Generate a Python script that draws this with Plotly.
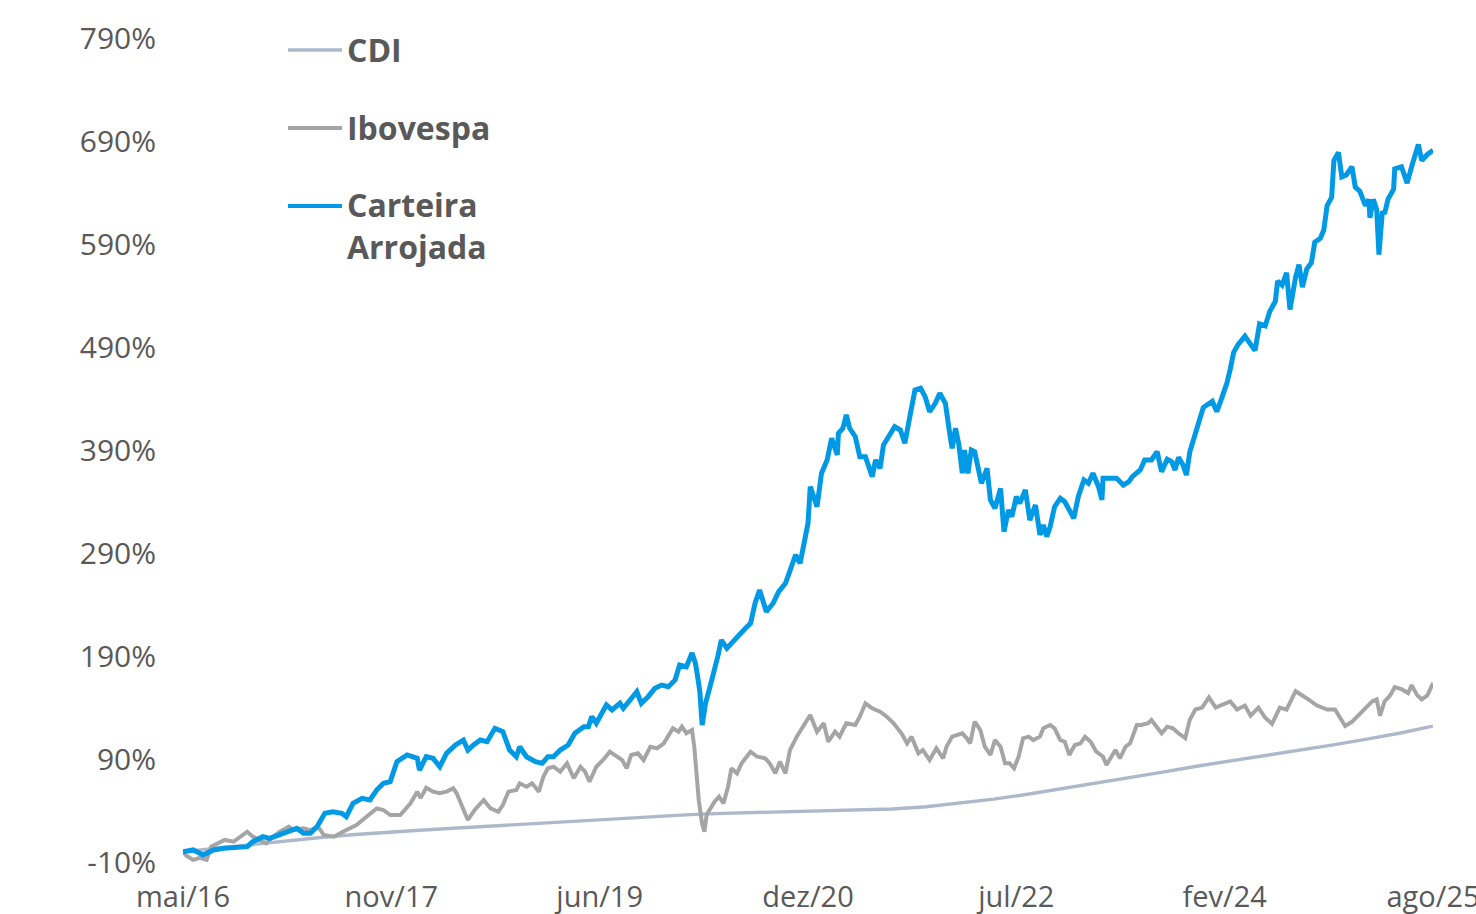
import plotly.graph_objects as go

# ---------------- data (x = months elapsed since the start of May/2016) ----------------
tick_months = [0, 18.5, 37, 55.5, 74, 92.5, 111]
tick_labels = ["mai/16", "nov/17", "jun/19", "dez/20", "jul/22", "fev/24", "ago/25"]
y_ticks = [-10, 90, 190, 290, 390, 490, 590, 690, 790]
y_tick_labels = ["-10%", "90%", "190%", "290%", "390%", "490%", "590%", "690%", "790%"]

cdi_months = [0, 3, 6, 9, 12, 15, 18, 21, 24, 27, 30, 33, 36, 39, 42, 45, 48, 51, 54, 57,
              60, 63, 66, 69, 72, 75, 78, 81, 84, 87, 90, 93, 96, 99, 102, 105, 108, 111]
cdi_values = [0, 3.4, 6.9, 10.5, 13.5, 16.4, 18.8, 20.8, 22.7, 24.6, 26.6, 28.6, 30.5, 32.5,
              34.5, 36.0, 37.2, 38.1, 38.8, 39.4, 40.2, 41.5, 43.6, 47.0, 51.0, 55.8, 61.0,
              66.3, 71.5, 77.2, 83.0, 88.0, 93.0, 98.0, 103.5, 109.0, 115.0, 122.0]

ibov_months = [0, 0.3, 0.9, 1.5, 2.1, 2.5, 3.7, 4.5, 5.7, 6.2, 7.4, 8.0, 8.6, 9.4, 9.8, 10.7,
               11.3, 12.0, 12.5, 13.4, 14.2, 15.4, 16.3, 17.2, 17.8, 18.4, 19.3, 20.2, 20.8,
               21.1, 21.6, 22.2, 22.8, 23.4, 24.0, 24.3, 24.8, 25.3, 25.9, 26.7, 27.3, 28.0,
               28.4, 28.9, 29.6, 29.9, 30.5, 31.0, 31.6, 32.0, 32.4, 32.9, 33.5, 34.1, 34.7,
               35.3, 35.7, 36.1, 36.7, 37.3, 37.9, 38.5, 39.0, 39.4, 39.8, 40.4, 40.9, 41.5,
               42.1, 42.7, 43.1, 43.5, 44.0, 44.3, 44.7, 45.2, 45.4, 45.6, 45.8, 46.1, 46.3,
               46.5, 46.8, 47.2, 47.6, 48.0, 48.4, 48.7, 49.2, 49.6, 50.4, 51.0, 51.7, 52.1,
               52.6, 53.0, 53.5, 53.9, 54.5, 55.1, 55.7, 56.3, 56.9, 57.3, 57.9, 58.3, 58.9,
               59.7, 60.1, 60.6, 61.2, 61.9, 62.5, 63.1, 63.8, 64.3, 64.7, 65.3, 65.7, 66.3,
               66.9, 67.5, 67.8, 68.3, 68.7, 69.2, 69.6, 69.9, 70.3, 70.8, 71.2, 71.7, 72.1,
               72.6, 73.0, 73.4, 73.8, 74.2, 74.6, 75.1, 75.5, 76.1, 76.4, 77.0, 77.4, 77.9,
               78.3, 78.7, 79.2, 79.7, 80.1, 80.6, 81.1, 81.7, 82.0, 82.5, 82.8, 83.2, 83.7,
               84.1, 84.7, 85.1, 85.7, 86.0, 86.5, 86.9, 87.4, 87.9, 88.4, 88.8, 89.0, 89.4,
               89.9, 90.5, 91.1, 91.7, 92.2, 93.0, 93.6, 94.3, 94.8, 95.5, 96.1, 96.7, 97.4,
               98.0, 98.8, 99.4, 99.9, 100.7, 101.6, 102.3, 102.8, 103.2, 103.8, 104.5, 105.1,
               105.6, 106.0, 106.3, 106.7, 107.2, 107.6, 108.2, 108.8, 109.1, 109.6, 110.0,
               110.5, 111.0]
ibov_values = [0, -4, -8, -6, -8, 4.9, 11.4, 9.7, 19.4, 14.6, 8.1, 14.6, 19.4, 24.3, 21.0, 22.7,
               21.0, 24.3, 16.2, 14.6, 19.4, 25.9, 34.0, 42.1, 40.5, 35.6, 35.6, 47.0, 58.3,
               52.0, 62.0, 58.3, 56.7, 58.3, 61.5, 56.7, 43.7, 30.8, 40.5, 50.2, 42.1, 38.8,
               45.3, 58.3, 59.9, 66.4, 63.1, 66.4, 58.3, 72.8, 81.0, 82.5, 77.7, 85.8, 71.3,
               82.5, 77.7, 68.0, 82.5, 89.0, 97.1, 92.2, 89.0, 81.0, 93.9, 95.5, 89.0, 101.9,
               100.4, 105.2, 113.3, 119.8, 116.5, 121.4, 115.0, 118.2, 101.9, 76.1, 50.0, 27.0,
               19.4, 36.0, 42.1, 48.5, 53.4, 47.0, 63.1, 81.0, 76.1, 85.8, 97.1, 92.2, 90.7,
               85.8, 76.1, 87.4, 76.1, 98.7, 111.7, 121.4, 132.7, 116.5, 124.7, 106.8, 116.5,
               111.7, 124.7, 123.0, 131.1, 144.1, 139.2, 135.9, 131.1, 124.7, 115.0, 105.2,
               111.7, 95.5, 98.7, 89.0, 100.4, 90.7, 101.9, 111.7, 113.3, 115.0, 110.1, 105.2,
               126.2, 118.2, 101.9, 93.9, 108.4, 101.9, 85.8, 85.8, 81.0, 92.2, 110.1, 111.7,
               108.4, 111.7, 119.8, 123.0, 119.8, 108.4, 106.8, 93.9, 103.6, 105.2, 111.7,
               106.8, 97.1, 92.2, 84.2, 93.9, 98.7, 90.7, 101.9, 105.2, 123.0, 123.0, 124.7,
               127.9, 121.4, 115.0, 121.4, 119.8, 115.0, 111.7, 110.2, 128.0, 138.0, 139.9,
               149.9, 139.9, 141.9, 145.9, 138.0, 141.9, 132.0, 139.9, 130.0, 124.1, 139.9,
               138.0, 155.8, 151.8, 148.1, 141.9, 138.0, 138.0, 130.0, 122.1, 126.1, 134.0,
               139.9, 145.9, 147.9, 132.0, 145.9, 151.8, 159.8, 157.8, 154.0, 161.7, 151.8,
               147.9, 151.8, 163.7]

cart_months = [0, 0.9, 1.8, 2.7, 3.6, 4.8, 5.7, 6.2, 7.1, 7.7, 8.6, 9.5, 10.1, 10.7, 11.3, 11.9,
               12.6, 13.3, 14.1, 14.5, 15.1, 15.9, 16.6, 17.2, 17.8, 18.4, 19.0, 19.9, 20.8,
               21.0, 21.6, 22.2, 22.8, 23.4, 24.2, 24.9, 25.3, 25.8, 26.4, 27.0, 27.7, 28.4,
               29.0, 29.6, 29.9, 30.5, 31.3, 31.9, 32.4, 32.9, 33.5, 34.2, 34.8, 35.6, 36.0,
               36.3, 36.7, 37.6, 38.1, 38.8, 39.1, 39.7, 40.3, 40.7, 41.3, 41.9, 42.5, 43.1,
               43.7, 44.1, 44.7, 45.2, 45.5, 45.7, 45.9, 46.1, 46.4, 46.8, 47.2, 47.5, 47.8,
               48.3, 48.7, 49.2, 49.8, 50.4, 50.8, 51.2, 51.8, 52.4, 52.9, 53.5, 53.9, 54.4,
               54.8, 55.2, 55.5, 55.7, 56.0, 56.3, 56.7, 57.2, 57.6, 58.1, 58.2, 58.6, 58.9,
               59.2, 59.7, 60.1, 60.6, 61.2, 61.5, 61.9, 62.2, 62.8, 63.2, 63.7, 64.1, 64.6,
               65.0, 65.5, 65.9, 66.3, 66.8, 67.2, 67.7, 68.1, 68.3, 68.6, 68.9, 69.2, 69.4,
               69.7, 70.0, 70.3, 70.6, 70.9, 71.4, 71.7, 72.1, 72.6, 72.9, 73.3, 73.6, 74.0,
               74.3, 74.8, 75.2, 75.7, 76.1, 76.4, 76.7, 77.0, 77.4, 77.9, 78.3, 78.7, 79.1,
               79.5, 80.0, 80.4, 80.8, 81.3, 81.6, 81.7, 82.3, 82.9, 83.5, 84.0, 84.3, 85.0,
               85.4, 86.0, 86.5, 86.9, 87.4, 87.8, 88.1, 88.4, 88.8, 89.1, 89.4, 89.9, 90.3,
               90.6, 91.4, 91.8, 92.2, 92.7, 93.0, 93.3, 93.7, 94.3, 94.8, 95.2, 95.6, 96.1,
               96.5, 97.0, 97.2, 97.6, 98.0, 98.3, 98.8, 99.1, 99.4, 99.8, 100.2, 100.5, 101.0,
               101.3, 101.6, 102.0, 102.2, 102.6, 102.9, 103.3, 103.8, 104.1, 104.5, 105.0,
               105.3, 105.4, 105.7, 106.0, 106.2, 106.5, 106.7, 107.0, 107.5, 107.6, 108.2,
               108.7, 109.1, 109.7, 110.0, 110.5, 111.0]
cart_values = [0, 1.7, -3.2, 1.7, 3.3, 4.9, 4.9, 9.7, 14.6, 13.0, 16.2, 19.4, 22.7, 17.8, 17.8,
               24.3, 37.3, 38.8, 37.3, 34.0, 47.0, 51.8, 50.2, 59.9, 66.4, 68.0, 87.4, 93.9,
               90.7, 79.3, 92.2, 90.7, 82.5, 95.5, 103.6, 108.4, 98.7, 103.6, 108.4, 106.8,
               119.8, 116.5, 98.7, 92.2, 101.9, 92.2, 87.4, 85.8, 92.2, 92.2, 98.7, 103.6,
               115.0, 121.4, 121.4, 131.1, 124.7, 142.4, 137.6, 144.1, 139.2, 147.3, 155.3,
               144.1, 150.5, 158.6, 161.8, 160.2, 166.7, 181.3, 179.6, 193.0, 183.0, 170.0,
               155.0, 123.0, 144.1, 160.2, 176.4, 190.0, 205.5, 197.5, 202.3, 208.7, 215.2,
               221.7, 241.2, 254.1, 233.0, 241.2, 252.5, 260.6, 273.5, 288.1, 280.0, 299.4,
               318.8, 354.4, 344.7, 335.0, 367.4, 380.3, 401.4, 385.2, 406.2, 411.1, 424.0,
               411.1, 402.9, 383.5, 383.5, 364.1, 380.3, 372.2, 394.8, 404.6, 412.6, 409.4,
               396.5, 425.6, 448.3, 449.9, 441.8, 427.2, 435.3, 445.0, 435.3, 405.0, 391.6,
               411.1, 395.0, 367.4, 390.0, 367.4, 390.0, 388.4, 373.8, 357.7, 372.2, 341.5,
               333.4, 352.8, 310.7, 331.7, 325.2, 344.7, 338.2, 351.2, 322.0, 336.6, 307.5,
               317.2, 305.9, 315.5, 335.0, 343.1, 339.8, 331.7, 323.7, 344.7, 360.9, 357.7,
               367.4, 354.4, 341.5, 362.5, 362.5, 362.5, 356.0, 359.2, 364.1, 370.6, 380.3,
               380.3, 388.4, 368.9, 381.0, 378.6, 370.6, 382.9, 375.4, 365.7, 388.0, 407.5,
               421.3, 431.2, 437.2, 427.3, 439.1, 455.0, 468.8, 484.8, 492.6, 500.6, 492.6,
               486.7, 512.4, 510.5, 524.4, 534.3, 554.1, 550.1, 562.0, 526.3, 558.0, 569.9,
               548.1, 565.9, 571.8, 591.7, 595.6, 603.6, 627.4, 635.3, 671.0, 679.0, 655.1,
               657.1, 665.0, 645.2, 641.3, 627.4, 633.3, 615.5, 633.3, 623.4, 579.8, 621.5,
               619.4, 633.3, 643.2, 663.0, 665.0, 649.1, 665.0, 686.7, 671.0, 676.9, 680.9]

series_names = ["CDI", "Ibovespa", "Carteira<br>Arrojada"]
series_colors = ["#ADB9CA", "#A5A5A5", "#0099E6"]
series_widths = [3.4, 4.0, 5.0]

# ---------------- figure ----------------
TEXT = "#595959"
W, H = 1476, 914
ML, MR, MT, MB = 183, 43, 38, 52
PW, PH = W - ML - MR, H - MT - MB

fig = go.Figure()
for xs, ys, nm, col, wd in zip([cdi_months, ibov_months, cart_months],
                               [cdi_values, ibov_values, cart_values],
                               series_names, series_colors, series_widths):
    fig.add_trace(go.Scatter(x=xs, y=ys, mode="lines", name=nm.replace("<br>", " "),
                             line=dict(color=col, width=wd), showlegend=False,
                             hoverinfo="skip"))


def px_x(p):
    return (p - ML) / PW


def px_y(p):
    return (H - MB - p) / PH


# legend drawn as line samples + labels (positions in pixels -> paper coords)
legend_rows = [50, 128, 206]
label_centres = [50, 128, 225.5]
shapes, annotations = [], []
for row, ctr, nm, col, wd in zip(legend_rows, label_centres, series_names,
                                 series_colors, series_widths):
    shapes.append(dict(type="line", xref="paper", yref="paper",
                       x0=px_x(288), x1=px_x(342), y0=px_y(row), y1=px_y(row),
                       line=dict(color=col, width=min(max(wd, 3.6), 4.2))))
    annotations.append(dict(xref="paper", yref="paper", x=px_x(345), y=px_y(ctr),
                            xanchor="left", yanchor="middle", text=nm, showarrow=False,
                            align="left",
                            font=dict(family="Open Sans", size=32, color=TEXT, weight="bold")))

fig.update_layout(
    width=W, height=H,
    margin=dict(l=ML, r=MR, t=MT, b=MB, autoexpand=False),
    paper_bgcolor="white", plot_bgcolor="white",
    showlegend=False,
    shapes=shapes, annotations=annotations,
    xaxis=dict(range=[0, 111], tickvals=tick_months, ticktext=tick_labels,
               showgrid=False, zeroline=False, showline=False, ticks="",
               automargin=False, ticklabeloverflow="allow", ticklabelstandoff=15,
               tickfont=dict(family="Open Sans", size=29, color=TEXT)),
    yaxis=dict(range=[-10, 790], tickvals=y_ticks, ticktext=y_tick_labels,
               showgrid=False, zeroline=False, showline=False, ticks="",
               automargin=False, ticklabeloverflow="allow", ticklabelstandoff=26,
               tickfont=dict(family="Open Sans", size=30, color=TEXT)),
)

fig.write_html("out.html", config={"displayModeBar": False},
               post_script="document.body.style.margin='0';document.body.style.overflow='hidden';")
